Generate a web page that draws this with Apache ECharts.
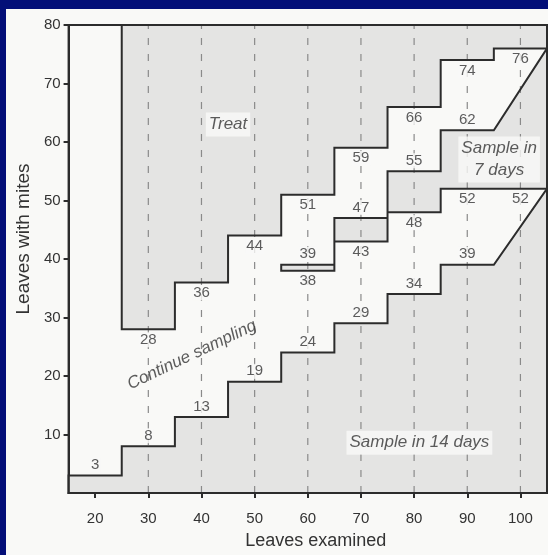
<!DOCTYPE html>
<html><head><meta charset="utf-8">
<script src="https://cdn.jsdelivr.net/npm/echarts@6/dist/echarts.min.js"></script>
<style>
html,body{margin:0;padding:0;background:#030f78;width:548px;height:555px;overflow:hidden;}
#c{position:absolute;left:6px;top:9px;width:542px;height:546px;}
</style>
</head><body><div id="c"></div>
<script>
// ---- data ----
const xTicks = [20, 30, 40, 50, 60, 70, 80, 90, 100];
const yTicks = [10, 20, 30, 40, 50, 60, 70, 80];
const dashedX = [30, 40, 50, 60, 70, 80, 90, 100];
const stepWidth = 10;
const treatStarts = [25, 35, 45, 55, 65, 75, 85, 95];
const treatValues = [28, 36, 44, 51, 59, 66, 74, 76];
const sevenUpperStarts = [55, 65, 75, 85];
const sevenUpperValues = [39, 47, 55, 62];
const sevenLowerStarts = [55, 65, 75, 85, 95];
const sevenLowerValues = [38, 43, 48, 52, 52];
const fourteenStarts = [15, 25, 35, 45, 55, 65, 75, 85];
const fourteenValues = [3, 8, 13, 19, 24, 29, 34, 39];
const regionNames = ['Treat', 'Sample in\n7 days', 'Sample in 14 days', 'Continue sampling'];
const xMin = 15, xMax = 105, yMin = 0, yMax = 80;

// ---- build shapes from the data ----
function steps(starts, values) {
  const pts = [];
  starts.forEach((s, i) => { pts.push([s, values[i]]); pts.push([s + stepWidth, values[i]]); });
  return pts;
}
const treatPoly = [[treatStarts[0], yMax]].concat(steps(treatStarts, treatValues), [[xMax, yMax]]);
const sevenPoly = steps(sevenUpperStarts, sevenUpperValues)
  .concat([[xMax, treatValues[treatValues.length - 1]]], steps(sevenLowerStarts, sevenLowerValues).reverse());
const fourteenPoly = [[xMin, yMin]].concat(steps(fourteenStarts, fourteenValues),
  [[xMax, sevenLowerValues[sevenLowerValues.length - 1]], [xMax, yMin]]);
const polys = [treatPoly, sevenPoly, fourteenPoly];

function mids(starts, values) { return starts.map((s, i) => [s + stepWidth / 2, values[i]]); }

const PAPER = '#f9f9f7', GREY = '#e4e4e3', INK = '#2c2c2c', TXT = '#333333';
const FONT = '"Liberation Sans", Arial, sans-serif';

function polySeries(fill, stroke, z) {
  return {
    type: 'custom', z: z, silent: true, clip: false,
    data: polys.map(p => p[0]),
    renderItem: (params, api) => ({
      type: 'polygon',
      shape: { points: polys[params.dataIndex].map(p => api.coord(p)) },
      style: { fill: fill, stroke: stroke, lineWidth: 2, lineJoin: 'miter' }
    })
  };
}
function numSeries(pts, pos) {
  return {
    type: 'scatter', z: 6, silent: true, symbolSize: 0, data: pts,
    label: {
      show: true, position: pos, distance: 3, formatter: p => String(p.value[1]),
      fontFamily: FONT, fontSize: 15, color: TXT, backgroundColor: PAPER, padding: [0, 1]
    }
  };
}
function regionLabel(pt, text, rotate, bg) {
  return {
    type: 'scatter', z: 7, silent: true, symbolSize: 0, data: [pt],
    label: {
      show: true, position: 'inside', formatter: text, rotate: rotate,
      fontFamily: FONT, fontStyle: 'italic', fontSize: 17, lineHeight: 22, color: TXT,
      backgroundColor: bg, padding: [1, 3]
    }
  };
}

const chart = echarts.init(document.getElementById('c'), null, { renderer: 'canvas' });
chart.setOption({
  backgroundColor: PAPER,
  animation: false,
  grid: { left: 62, right: 1, top: 16, bottom: 58, show: false },
  xAxis: {
    type: 'value', min: xMin, max: xMax,
    name: 'Leaves examined', nameLocation: 'middle', nameGap: 39,
    nameTextStyle: { fontFamily: FONT, fontSize: 18, color: TXT, padding: [0, 0, 0, 16] },
    axisLine: { show: true, lineStyle: { color: INK, width: 2 } },
    axisTick: { show: true, customValues: xTicks, length: 5, lineStyle: { color: INK, width: 2 } },
    axisLabel: { customValues: xTicks, margin: 18, fontFamily: FONT, fontSize: 15, color: TXT },
    splitLine: { show: false }
  },
  yAxis: {
    type: 'value', min: yMin, max: yMax, interval: 10,
    name: 'Leaves with mites', nameLocation: 'middle', nameGap: 33,
    nameTextStyle: { fontFamily: FONT, fontSize: 19, color: TXT, padding: [0, 0, 0, 40] },
    axisLine: { show: true, lineStyle: { color: INK, width: 2 } },
    axisTick: { show: true, customValues: yTicks, length: 5, lineStyle: { color: INK, width: 2 } },
    axisLabel: { customValues: yTicks, margin: 8, fontFamily: FONT, fontSize: 15, color: TXT },
    splitLine: { show: false }
  },
  series: [
    polySeries(GREY, 'none', 1),
    {
      type: 'custom', z: 2, silent: true, clip: false,
      data: dashedX.map(x => [x, yMin]),
      renderItem: (params, api) => {
        const a = api.coord([dashedX[params.dataIndex], yMin]);
        const b = api.coord([dashedX[params.dataIndex], yMax]);
        return { type: 'line', shape: { x1: a[0], y1: a[1], x2: b[0], y2: b[1] },
          style: { stroke: '#8a8a8a', lineWidth: 1.2, lineDash: [7, 9] } };
      }
    },
    polySeries('none', INK, 3),
    {
      type: 'custom', z: 3, silent: true, clip: false, data: [[xMin, yMax]],
      renderItem: (params, api) => {
        const a = api.coord([xMin, yMax]), b = api.coord([xMax, yMin]);
        return { type: 'rect', shape: { x: a[0], y: a[1], width: b[0] - a[0], height: b[1] - a[1] },
          style: { fill: 'none', stroke: INK, lineWidth: 2 } };
      }
    },
    numSeries(mids(treatStarts, treatValues), 'bottom'),
    numSeries(mids(sevenUpperStarts, sevenUpperValues), 'top'),
    numSeries(mids(sevenLowerStarts, sevenLowerValues), 'bottom'),
    numSeries(mids(fourteenStarts, fourteenValues), 'top'),
    regionLabel([45, 63], regionNames[0], 0, PAPER),
    regionLabel([96, 57], regionNames[1], 0, PAPER),
    regionLabel([81, 8.6], regionNames[2], 0, PAPER),
    regionLabel([38.2, 23.6], regionNames[3], 25.5, 'transparent')
  ]
});
</script>
</body></html>
